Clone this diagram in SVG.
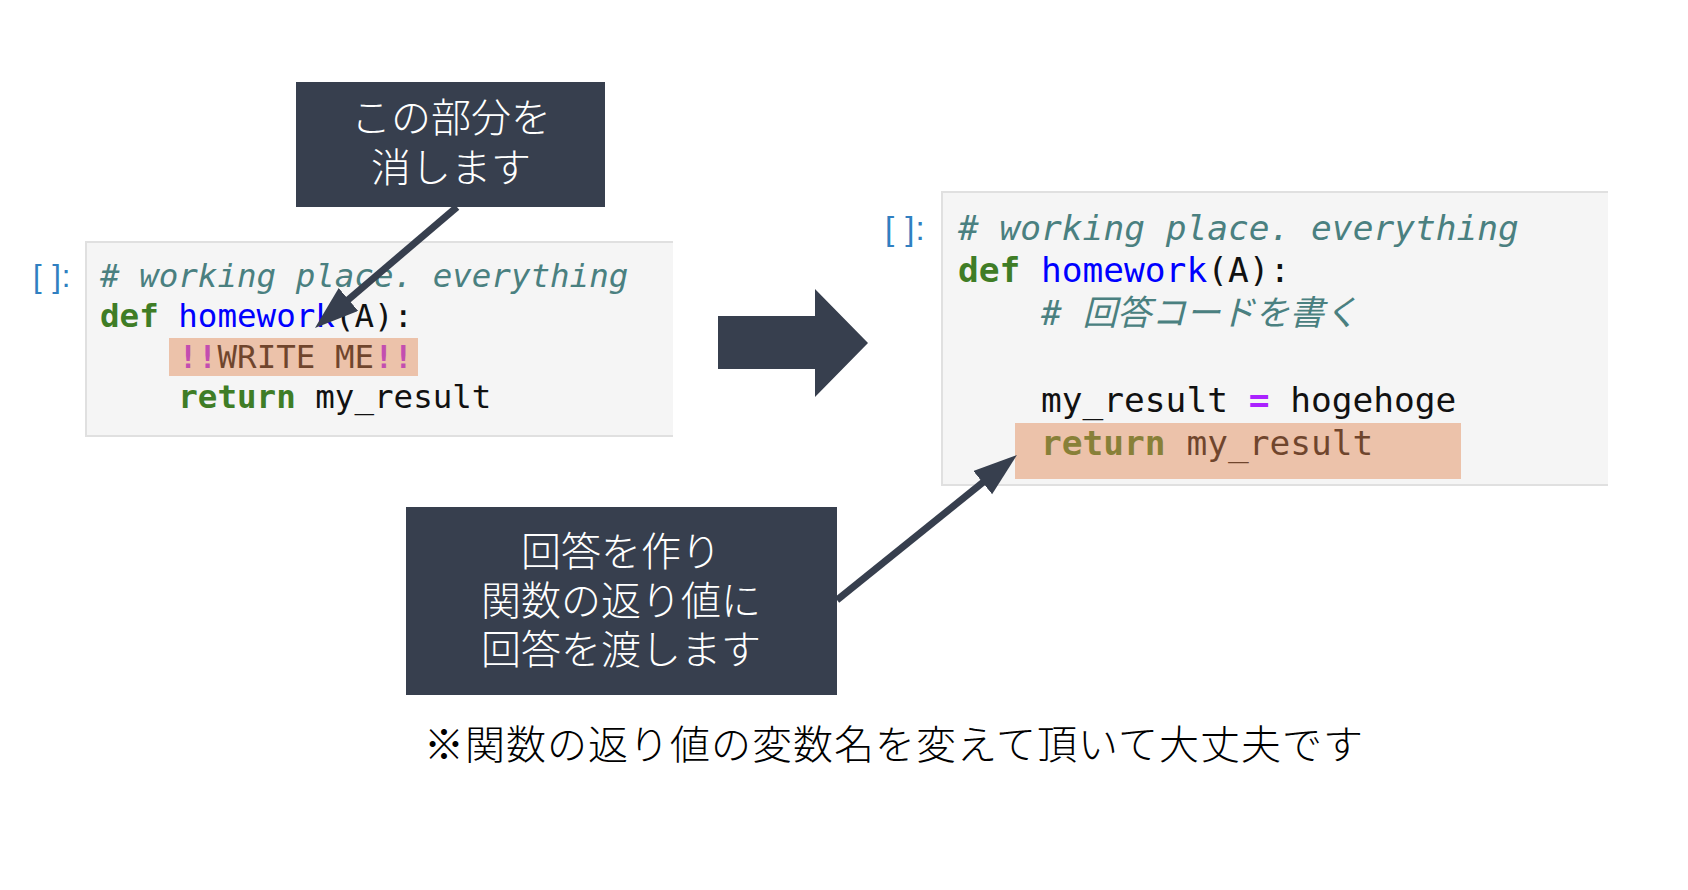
<svg xmlns="http://www.w3.org/2000/svg" width="1688" height="890" viewBox="0 0 1688 890">
<style>
.box{fill:#373f4e}
.cell{fill:#f5f5f5}
.cellb{stroke:#e0e0e0;stroke-width:2;fill:none}
.hl{fill:#e2864f;opacity:0.45}
.code{font-family:"DejaVu Sans Mono","Noto Sans CJK JP",monospace;fill:#111}
.cm{fill:#4a8080;font-style:italic}
.kw{fill:#3f7d26;font-weight:bold}
.fn{fill:#0000ff}
.op{fill:#aa22ff;font-weight:bold}
.pr{font-family:"Liberation Sans",sans-serif;fill:#307fc1}
.jp{font-family:"Noto Sans CJK JP",sans-serif;font-weight:300;text-anchor:middle}
.wt{fill:#ffffff;font-size:40px}
.conn{stroke:#373f4e;stroke-width:7;fill:none}
</style>
<defs>
<marker id="ah" markerUnits="userSpaceOnUse" markerWidth="46" markerHeight="32" refX="14" refY="15" orient="auto">
<path d="M0,0 L44,15 L0,30 z" fill="#373f4e"/>
</marker>
</defs>
<rect width="1688" height="890" fill="#ffffff"/>

<g id="left-cell">
<rect class="cell" x="86" y="242" width="587" height="194"/>
<path class="cellb" d="M673,242 H86 V436 H673"/>
<text class="pr" x="33" y="287" font-size="31" letter-spacing="1">[ ]:</text>
<text class="code" font-size="32.5">
<tspan class="cm" x="100" y="287"># working place. everything</tspan>
<tspan class="kw" x="100" y="327">def</tspan><tspan class="fn" x="178.3" y="327">homework</tspan><tspan x="334.9" y="327">(A):</tspan>
<tspan class="op" x="178.3" y="368">!!</tspan><tspan x="217.5" y="368">WRITE ME</tspan><tspan class="op" x="374" y="368">!!</tspan>
<tspan class="kw" x="178.3" y="408">return</tspan><tspan x="315.3" y="408">my_result</tspan>
</text>
<rect class="hl" x="169" y="338" width="249" height="38"/>
</g>

<g id="right-cell">
<rect class="cell" x="942" y="192" width="666" height="293"/>
<path class="cellb" d="M1608,192 H942 V485 H1608"/>
<text class="pr" x="885" y="240" font-size="33" letter-spacing="1">[ ]:</text>
<text class="code" font-size="34.5">
<tspan class="cm" x="958" y="240"># working place. everything</tspan>
<tspan class="kw" x="958" y="282">def</tspan><tspan class="fn" x="1041" y="282">homework</tspan><tspan x="1207.2" y="282">(A):</tspan>
<tspan class="cm" x="1041" y="325"># 回答コードを書く</tspan>
<tspan x="1041" y="412">my_result</tspan><tspan class="op" x="1248.7" y="412">=</tspan><tspan x="1290.2" y="412">hogehoge</tspan>
<tspan class="kw" x="1041" y="455">return</tspan><tspan x="1186.4" y="455">my_result</tspan>
</text>
<rect class="hl" x="1015" y="423" width="446" height="56"/>
</g>

<g id="big-arrow">
<polygon class="box" points="718,316 815,316 815,289 868,343 815,397 815,369 718,369"/>
</g>

<g id="note-top">
<rect class="box" x="296" y="82" width="309" height="125"/>
<text class="jp wt" x="451" y="132">この部分を</text>
<text class="jp wt" x="451" y="182">消します</text>
</g>

<g id="note-bottom">
<rect class="box" x="406" y="507" width="431" height="188"/>
<text class="jp wt" x="621" y="566">回答を作り</text>
<text class="jp wt" x="621" y="615">関数の返り値に</text>
<text class="jp wt" x="621" y="664">回答を渡します</text>
</g>

<g id="footnote">
<text class="jp" x="894" y="759" font-size="40" fill="#000000" letter-spacing="1">※関数の返り値の変数名を変えて頂いて大丈夫です</text>
</g>

<g id="connectors">
<line class="conn" x1="457" y1="207" x2="337.8" y2="308.6" marker-end="url(#ah)"/>
<line class="conn" x1="837" y1="600" x2="993.6" y2="473.8" marker-end="url(#ah)"/>
</g>
</svg>
